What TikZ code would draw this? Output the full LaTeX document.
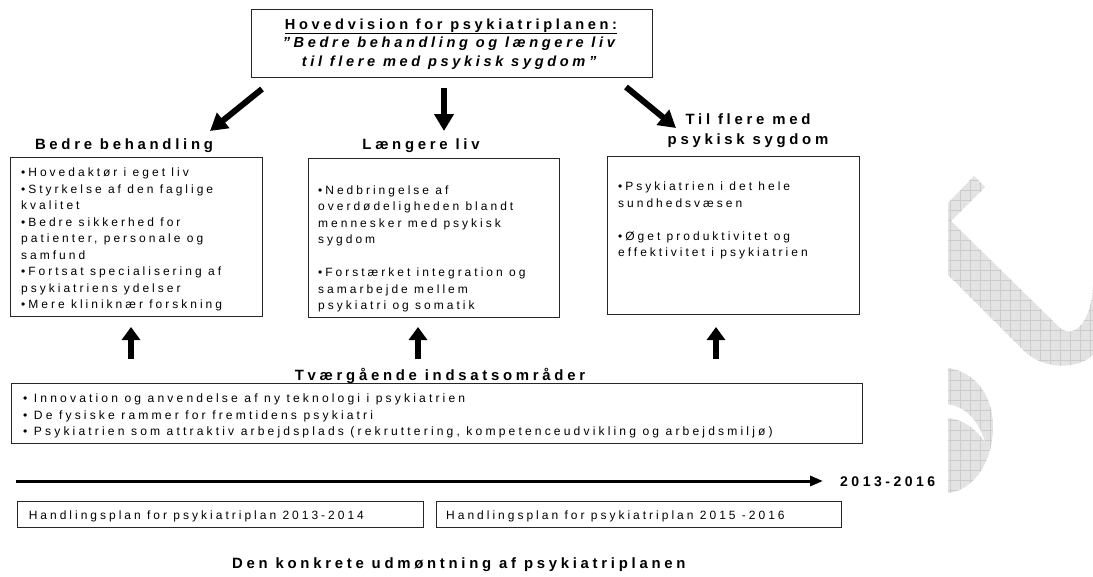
\documentclass[tikz,border=0pt]{standalone}
\usepackage{fontspec}
\setmainfont{Liberation Sans}
\newfontfamily\lsfont[LetterSpace=25]{Liberation Sans}
\newfontfamily\lswide[LetterSpace=26]{Liberation Sans}
\usetikzlibrary{arrows.meta}
\begin{document}
\begin{tikzpicture}[x=1pt,y=-1pt,
  box/.style={draw=black!85,line width=0.9pt,inner sep=0pt,anchor=north west},
  body/.style={font=\lsfont\fontsize{12}{16.5}\selectfont,inner sep=0pt,align=left,anchor=north west},
  line/.style={font=\lsfont\fontsize{12}{16.5}\selectfont,inner sep=0pt,anchor=base west},
  head/.style={font=\lsfont\bfseries\fontsize{14.9}{20}\selectfont,inner sep=0pt,anchor=base},
  fatarrow/.style={line width=6pt,-{Triangle[width=19pt,length=17pt]}},
  uparrow/.style={line width=6.5pt,-{Triangle[width=18pt,length=13pt]}},
  timeline/.style={line width=3pt,-{Triangle[width=10pt,length=13pt]}},
  wmfill/.style={fill=black!11},
  wmgrid/.style={draw=black!20,line width=0.6pt},
]
\useasboundingbox (0,0) rectangle (1093,576);

% watermark
\begin{scope}
  \clip (948,203) -- (974,176) -- (985,187) -- (951,221) -- (1060,328)
        .. controls (1075,340) and (1092,320) .. (1093,285) -- (1093,355)
        .. controls (1080,368) and (1045,372) .. (1023,350) -- (948,275) -- cycle
        (948,368) .. controls (975,372) and (993,395) .. (993,427)
        .. controls (993,460) and (975,490) .. (948,493) -- cycle;
  \fill[wmfill] (940,170) rectangle (1093,500);
  \draw[wmgrid,step=10pt] (940,170) grid (1093,500);
\end{scope}
\fill[white] (946,404) .. controls (965,406) and (978,420) .. (985,442)
   .. controls (975,428) and (962,418) .. (946,418) -- cycle;

% top box
\node[box,minimum width=401pt,minimum height=68pt] (top) at (251,9) {};
\node[font=\lsfont\bfseries\fontsize{14.6}{18.5}\selectfont,inner sep=0pt,align=center,anchor=north] (toptext) at (451,16)
  {\strut\underline{Hovedvision for psykiatriplanen:}\\
   \strut\textit{”Bedre behandling og længere liv}\\
   \strut\textit{til flere med psykisk sygdom”}};

% arrows from top
\coordinate (aLs) at (262,89);  \coordinate (aLe) at (210,131);
\coordinate (aMs) at (444,88);  \coordinate (aMe) at (444,131);
\coordinate (aRs) at (626,87);  \coordinate (aRe) at (676,128);
\draw[fatarrow] (aLs) -- (aLe);
\draw[fatarrow] (aMs) -- (aMe);
\draw[fatarrow] (aRs) -- (aRe);

% titles
\node[head] (t1) at (124,149) {Bedre behandling};
\node[head] (t2) at (421,149) {Længere liv};
\node[head] (t3a) at (748,124) {Til flere med};
\node[head] (t3b) at (748,144) {psykisk sygdom};

% three boxes
\node[box,minimum width=252pt,minimum height=159pt] (b1) at (10,157) {};
\node[box,minimum width=251pt,minimum height=159pt] (b2) at (308,158) {};
\node[box,minimum width=252pt,minimum height=158pt] (b3) at (607,156) {};

\node[body] (b1t) at (21,164.8) {\strut•Hovedaktør i eget liv\\
  \strut•Styrkelse af den faglige\\
  \strut kvalitet\\
  \strut•Bedre sikkerhed for\\
  \strut patienter, personale og\\
  \strut samfund\\
  \strut•Fortsat specialisering af\\
  \strut psykiatriens ydelser\\
  \strut•Mere kliniknær forskning};
\node[body] (b2t) at (318,182.5) {\strut•Nedbringelse af\\
  \strut overdødeligheden blandt\\
  \strut mennesker med psykisk\\
  \strut sygdom\\
  \strut\\
  \strut•Forstærket integration og\\
  \strut samarbejde mellem\\
  \strut psykiatri og somatik};
\node[body] (b3t) at (618,179.2) {\strut•Psykiatrien i det hele\\
  \strut sundhedsvæsen\\
  \strut\\
  \strut•Øget produktivitet og\\
  \strut effektivitet i psykiatrien};

% up arrows
\coordinate (u1s) at (131,359); \coordinate (u1e) at (131,327);
\coordinate (u2s) at (418,359); \coordinate (u2e) at (418,327);
\coordinate (u3s) at (716,359); \coordinate (u3e) at (716,327);
\draw[uparrow] (u1s) -- (u1e);
\draw[uparrow] (u2s) -- (u2e);
\draw[uparrow] (u3s) -- (u3e);

% cross-cutting
\node[head] (t4) at (440,380) {Tværgående indsatsområder};
\node[box,minimum width=851pt,minimum height=60pt] (b4) at (11,383) {};
\node[body,font=\lswide\fontsize{12.1}{16.5}\selectfont] (b4t) at (23,390.8) {\strut• Innovation og anvendelse af ny teknologi i psykiatrien\\
  \strut• De fysiske rammer for fremtidens psykiatri\\
  \strut• Psykiatrien som attraktiv arbejdsplads (rekruttering, kompetenceudvikling og arbejdsmiljø)};

% timeline
\coordinate (tls) at (16,481);
\node[head,anchor=base west,font=\lsfont\bfseries\fontsize{14}{20}\selectfont] (year) at (840,486) {2013-2016};
\coordinate (tle) at (823,481);
\draw[timeline] (tls) -- (tle);

% plan boxes
\node[box,minimum width=406pt,minimum height=26pt] (b5) at (17,501) {};
\node[box,minimum width=405pt,minimum height=26pt] (b6) at (436,501) {};
\node[line] (b5t) at (28.6,519.5) {Handlingsplan for psykiatriplan 2013-2014};
\node[line] (b6t) at (446,519.5) {Handlingsplan for psykiatriplan 2015 -2016};

% bottom caption
\node[head,anchor=base west] (cap) at (232,568) {Den konkrete udmøntning af psykiatriplanen};
\end{tikzpicture}
\end{document}
